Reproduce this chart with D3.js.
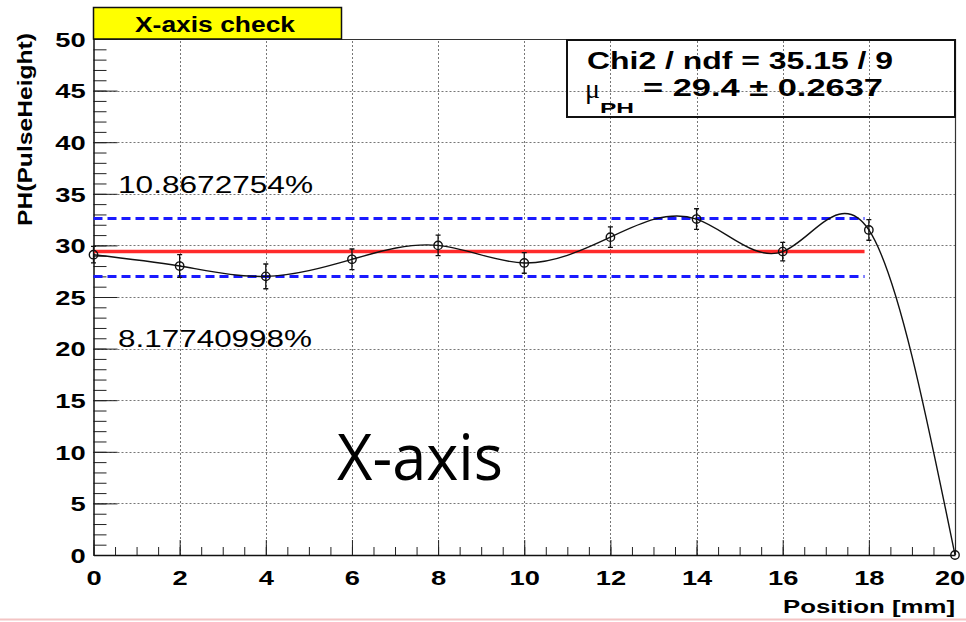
<!DOCTYPE html>
<html>
<head>
<meta charset="utf-8">
<script src="https://cdn.jsdelivr.net/npm/d3@7"></script>
<style>
  body { margin: 0; background: #fff; }
  svg { display: block; }
</style>
</head>
<body>
<svg id="chart" width="966" height="622"></svg>
<script>
// Pulse height measured along the X axis
const positions      = [0, 2, 4, 6, 8, 10, 12, 14, 16, 18, 20];
const pulseHeight    = [29.1, 28.0, 27.0, 28.65, 30.0, 28.3, 30.8, 32.55, 29.4, 31.5, 0];
const pulseHeightErr = [0.8, 1.1, 1.2, 1.0, 1.0, 1.0, 1.0, 1.0, 0.9, 1.0, 0];

const xTickValues  = [0, 2, 4, 6, 8, 10, 12, 14, 16, 18, 20];
const yTickValues  = [0, 5, 10, 15, 20, 25, 30, 35, 40, 45, 50];
const xMinorValues = d3.range(0, 20.001, 0.5);
const yMinorValues = d3.range(0, 50.001, 1);

// Fit result and band limits
const meanPH      = 29.4;
const meanPHErr   = "0.2637";
const chi2Text    = "Chi2 / ndf = 35.15 / 9";
const upperPct    = 10.8672754;
const lowerPct    = 8.17740998;
const bandXEnd    = 17.9;

const titleText  = "X-axis check";
const xTitle     = "Position [mm]";
const yTitle     = "PH(PulseHeight)";
const noteText   = "X-axis";

const svg = d3.select("#chart");
const boldFont = "'Liberation Sans', Arial, Helvetica, sans-serif";

const x = d3.scaleLinear().domain([0, 20]).range([93.5, 955]);
const y = d3.scaleLinear().domain([0, 50]).range([555, 39]);

// Dotted grid at the major ticks
const grid = svg.append("g").attr("stroke", "#777").attr("stroke-width", 1)
  .attr("stroke-dasharray", "2,2");
grid.selectAll(".gy").data(yTickValues.filter(v => v > 0))
  .join("line")
  .attr("x1", x(0)).attr("x2", x(20))
  .attr("y1", d => Math.round(y(d)) + 0.5).attr("y2", d => Math.round(y(d)) + 0.5);
grid.selectAll(".gx").data(xTickValues.filter(v => v > 0 && v < 20))
  .join("line")
  .attr("y1", y(0)).attr("y2", y(50))
  .attr("x1", d => Math.round(x(d)) + 0.5).attr("x2", d => Math.round(x(d)) + 0.5);

// Frame (top and right)
svg.append("path")
  .attr("d", `M${x(0)},${y(50) + 0.5}H${x(20) + 0.5}V${y(0)}`)
  .attr("fill", "none").attr("stroke", "#333").attr("stroke-width", 1.2);

// Axes with inward ticks
const yMinor = svg.append("g").attr("transform", `translate(${x(0)},0)`)
  .call(d3.axisLeft(y).tickValues(yMinorValues).tickSize(-13).tickFormat(""));
yMinor.select(".domain").remove();
yMinor.selectAll("line").attr("stroke", "#222");

const yAxis = svg.append("g").attr("transform", `translate(${x(0)},0)`)
  .call(d3.axisLeft(y).tickValues(yTickValues).tickSizeInner(-24).tickSizeOuter(0).tickPadding(6));
yAxis.select(".domain").attr("stroke", "#111").attr("stroke-width", 1.5);
yAxis.selectAll("line").attr("stroke", "#222");
yAxis.selectAll("text")
  .attr("x", -6).attr("dy", "0.35em")
  .attr("transform", "scale(1.3,1)")
  .style("font-family", boldFont).style("font-weight", "bold")
  .style("font-size", "21px").attr("fill", "#000");

const xMinor = svg.append("g").attr("transform", `translate(0,${y(0)})`)
  .call(d3.axisBottom(x).tickValues(xMinorValues).tickSize(-8).tickFormat(""));
xMinor.select(".domain").remove();
xMinor.selectAll("line").attr("stroke", "#222");

const xAxis = svg.append("g").attr("transform", `translate(0,${y(0)})`)
  .call(d3.axisBottom(x).tickValues(xTickValues).tickSizeInner(-15).tickSizeOuter(0));
xAxis.select(".domain").attr("stroke", "#111").attr("stroke-width", 1.5);
xAxis.selectAll("line").attr("stroke", "#222");
xAxis.selectAll("text")
  .attr("y", 30).attr("dy", 0)
  .attr("transform", "scale(1.3,1)")
  .style("font-family", boldFont).style("font-weight", "bold")
  .style("font-size", "21px").attr("fill", "#000");
// keep the last label inside the page edge
xAxis.selectAll("text").filter(d => d === 20)
  .attr("text-anchor", "end").attr("x", 7.5);

// Axis titles
svg.append("text")
  .attr("x", 955).attr("y", 613).attr("text-anchor", "end")
  .attr("textLength", 172).attr("lengthAdjust", "spacingAndGlyphs")
  .style("font-family", boldFont).style("font-weight", "bold").style("font-size", "19px")
  .text(xTitle);
svg.append("text")
  .attr("transform", "translate(32,226) rotate(-90)")
  .attr("textLength", 193).attr("lengthAdjust", "spacingAndGlyphs")
  .style("font-family", boldFont).style("font-weight", "bold").style("font-size", "20px")
  .text(yTitle);

// Mean line and +/- band limits
const upperVal = meanPH * (1 + upperPct / 100);
const lowerVal = meanPH * (1 - lowerPct / 100);
svg.append("line")
  .attr("x1", x(0)).attr("x2", x(bandXEnd)).attr("y1", y(meanPH)).attr("y2", y(meanPH))
  .attr("stroke", "#ff2a2a").attr("stroke-width", 3.5);
svg.selectAll(".band").data([upperVal, lowerVal]).join("line")
  .attr("x1", x(0)).attr("x2", x(bandXEnd))
  .attr("y1", d => y(d)).attr("y2", d => y(d))
  .attr("stroke", "#1a1aff").attr("stroke-width", 3).attr("stroke-dasharray", "9,5");

// Smooth curve through the measurements
const pts = positions.map((p, i) => [p, pulseHeight[i], pulseHeightErr[i]]);
svg.append("path")
  .datum(pts)
  .attr("d", d3.line().x(d => x(d[0])).y(d => y(d[1])).curve(d3.curveNatural))
  .attr("fill", "none").attr("stroke", "#111").attr("stroke-width", 1.4);

// Error bars and open markers
const marks = svg.append("g").attr("stroke", "#111").attr("fill", "none");
marks.selectAll(".eb").data(pts.filter(d => d[2] > 0)).join("path")
  .attr("stroke-width", 1.3)
  .attr("d", d => {
    const cx = x(d[0]), y0 = y(d[1] - d[2]), y1 = y(d[1] + d[2]);
    return `M${cx},${y0}V${y1}M${cx - 2.5},${y0}H${cx + 2.5}M${cx - 2.5},${y1}H${cx + 2.5}`;
  });
marks.selectAll("circle").data(pts).join("circle")
  .attr("cx", d => x(d[0])).attr("cy", d => y(d[1])).attr("r", 4.2)
  .attr("fill", "none").attr("stroke-width", 1.4);

// Band percentages
svg.append("text")
  .attr("x", 118).attr("y", 193)
  .attr("textLength", 195).attr("lengthAdjust", "spacingAndGlyphs")
  .style("font-family", boldFont).style("font-size", "24px")
  .text(upperPct.toFixed(7) + "%");
svg.append("text")
  .attr("x", 118).attr("y", 347)
  .attr("textLength", 194).attr("lengthAdjust", "spacingAndGlyphs")
  .style("font-family", boldFont).style("font-size", "24px")
  .text(lowerPct.toFixed(8) + "%");

// Title box
svg.append("rect")
  .attr("x", 93.5).attr("y", 7.5).attr("width", 248).attr("height", 31.5)
  .attr("fill", "#ffff00").attr("stroke", "#111").attr("stroke-width", 1.5);
svg.append("text")
  .attr("x", 215).attr("y", 32).attr("text-anchor", "middle")
  .attr("textLength", 160).attr("lengthAdjust", "spacingAndGlyphs")
  .style("font-family", boldFont).style("font-weight", "bold").style("font-size", "22px")
  .text(titleText);

// Fit statistics box
svg.append("rect")
  .attr("x", 567).attr("y", 40).attr("width", 388).attr("height", 77)
  .attr("fill", "none").attr("stroke", "#111").attr("stroke-width", 2);
svg.append("text")
  .attr("x", 587).attr("y", 69)
  .attr("textLength", 306).attr("lengthAdjust", "spacingAndGlyphs")
  .style("font-family", boldFont).style("font-weight", "bold").style("font-size", "23px")
  .text(chi2Text);
svg.append("text")
  .attr("x", 585).attr("y", 98)
  .style("font-family", "'Liberation Serif', 'DejaVu Serif', serif").style("font-size", "28px")
  .text("\u03bc");
svg.append("text")
  .attr("x", 600).attr("y", 113)
  .attr("textLength", 34).attr("lengthAdjust", "spacingAndGlyphs")
  .style("font-family", boldFont).style("font-weight", "bold").style("font-size", "14px")
  .text("PH");
svg.append("text")
  .attr("x", 643).attr("y", 96)
  .attr("textLength", 240).attr("lengthAdjust", "spacingAndGlyphs")
  .style("font-family", boldFont).style("font-weight", "bold").style("font-size", "23px")
  .text(`=  ${meanPH} \u00b1 ${meanPHErr}`);

// Annotation
svg.append("text")
  .attr("x", 337).attr("y", 480)
  .attr("textLength", 166).attr("lengthAdjust", "spacingAndGlyphs")
  .style("font-family", "'Open Sans', 'DejaVu Sans', sans-serif").style("font-size", "64px")
  .text(noteText);

// Slide rule at the bottom edge
svg.append("line")
  .attr("x1", 0).attr("x2", 966).attr("y1", 619.5).attr("y2", 619.5)
  .attr("stroke", "#f3c4c4").attr("stroke-width", 2);
</script>
</body>
</html>
